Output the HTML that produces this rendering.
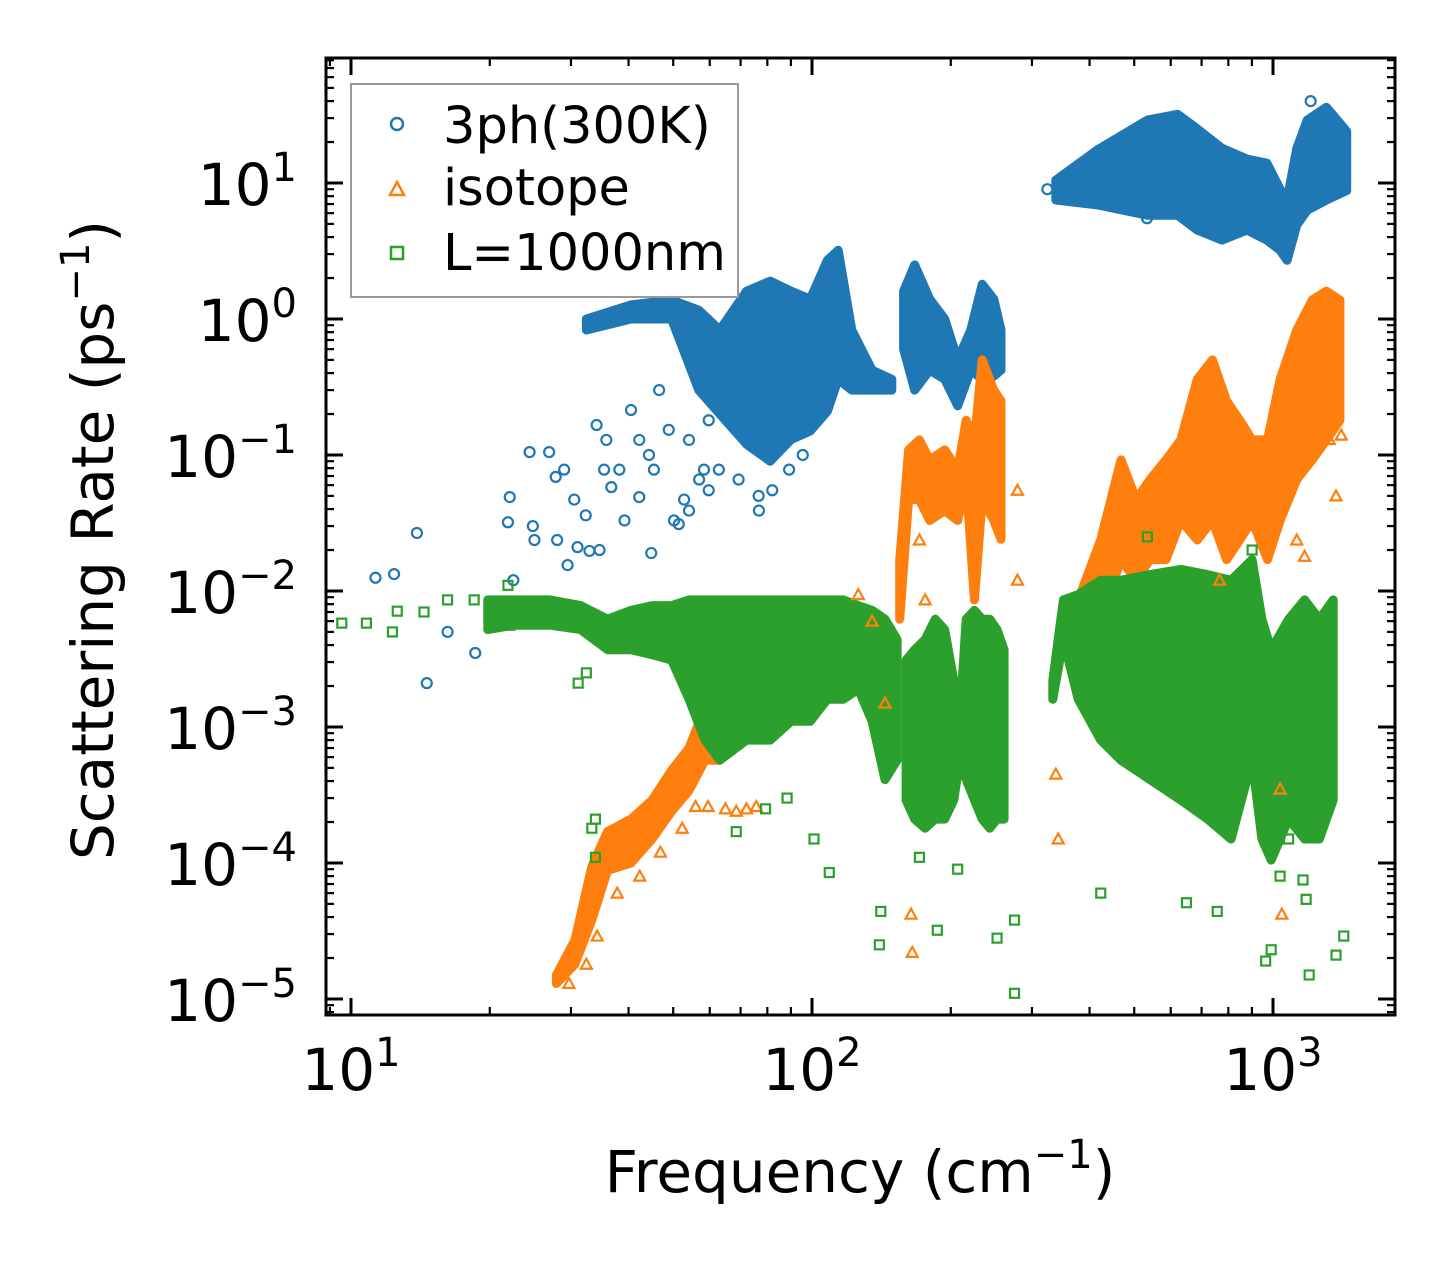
<!DOCTYPE html>
<html><head><meta charset="utf-8"><style>
html,body{margin:0;padding:0;background:#fff;width:1455px;height:1265px;overflow:hidden}
svg text{font-family:"DejaVu Sans","Liberation Sans",sans-serif;fill:#000}
</style></head><body>
<svg id="chart" width="1455" height="1265" viewBox="0 0 1455 1265" xmlns="http://www.w3.org/2000/svg">
<g id="bands"></g>
<g id="points"></g>
<g id="axes"></g>
<g id="legend">
<rect x="351" y="84" width="387" height="213" fill="#fff" fill-opacity="0.8" stroke="#999" stroke-width="2"/>
<circle cx="397" cy="124" r="6" fill="none" stroke="#1f77b4" stroke-width="2.5"/>
<text x="443" y="143" font-size="51">3ph(300K)</text>
<path d="M397,182 L404,195 L390,195 Z" fill="none" stroke="#ff7f0e" stroke-width="2.5"/>
<text x="443" y="205" font-size="51">isotope</text>
<rect x="391" y="247" width="12" height="12" fill="none" stroke="#2ca02c" stroke-width="2.5"/>
<text x="443" y="270" font-size="51">L=1000nm</text>
</g>
<text x="860" y="1192" font-size="58" text-anchor="middle">Frequency (cm<tspan dy="-24" font-size="40">−1</tspan><tspan dy="24">)</tspan></text>
<text transform="translate(113,540) rotate(-90)" font-size="58" text-anchor="middle">Scattering Rate (ps<tspan dy="-24" font-size="40">−1</tspan><tspan dy="24">)</tspan></text>
</svg>
<script>
// ---- Data (frequency in cm^-1, rate in ps^-1) ----
const xTickLabels = ["1", "2", "3"];
const yTickExps = ["1", "0", "−1", "−2", "−3", "−4", "−5"];
const xTickValues = [10, 100, 1000];
const yTickValues = [10, 1, 0.1, 0.01, 0.001, 0.0001, 0.00001];

// dense-band envelopes
const blueBand1F  = [338, 416, 534, 621, 685, 775, 878, 970, 1036, 1073, 1126, 1186, 1306, 1445];
const blueBand1Hi = [10.5, 17.5, 29, 32, 25, 18, 15, 14, 9, 7.5, 18, 29, 36, 24];
const blueBand1Lo = [7.5, 6.9, 5.8, 5.8, 4.5, 3.8, 4.5, 3.8, 3.2, 2.7, 4.9, 6.3, 7.5, 8.8];
const blueBand2F  = [32.4, 40.5, 49.6, 56.8, 63.1, 72.1, 81.1, 90.1, 99.1, 108, 114, 122, 135, 149];
const blueBand2Hi = [1.0, 1.27, 1.38, 1.16, 0.83, 1.6, 1.9, 1.6, 1.4, 2.7, 3.2, 0.83, 0.42, 0.36];
const blueBand2Lo = [0.83, 1.0, 1.0, 0.3, 0.2, 0.12, 0.09, 0.13, 0.15, 0.21, 0.36, 0.3, 0.3, 0.3];
const blueBand3F  = [158, 167, 180, 194, 207, 221, 234, 248, 257];
const blueBand3Hi = [1.6, 2.5, 1.4, 1.0, 0.5, 0.83, 1.8, 1.4, 0.83];
const blueBand3Lo = [0.6, 0.3, 0.42, 0.36, 0.23, 0.42, 0.36, 0.38, 0.42];

const orangeBand1F  = [27.9, 30.6, 33.3, 36, 40.5, 45, 49.6, 54.1, 58.6, 63.1];
const orangeBand1Hi = [1.5e-5, 2.7e-5, 9.4e-5, 1.7e-4, 2.1e-4, 2.9e-4, 4.8e-4, 7e-4, 1.4e-3, 1.6e-3];
const orangeBand1Lo = [1.3e-5, 1.8e-5, 3.8e-5, 8.8e-5, 1.0e-4, 1.5e-4, 2.4e-4, 3.4e-4, 5.7e-4, 5.7e-4];
const orangeBand2F  = [155, 162, 171, 180, 194, 207, 216, 225, 234, 248, 257];
const orangeBand2Hi = [0.0169, 0.109, 0.129, 0.092, 0.109, 0.078, 0.18, 0.129, 0.5, 0.30, 0.25];
const orangeBand2Lo = [0.0062, 0.047, 0.047, 0.033, 0.039, 0.033, 0.066, 0.0086, 0.047, 0.033, 0.024];
const orangeBand3F  = [342, 378, 423, 468, 505, 541, 586, 631, 685, 739, 793, 847, 901, 973, 1036, 1126, 1216, 1306, 1397];
const orangeBand3Hi = [0.0044, 0.0086, 0.0237, 0.092, 0.047, 0.066, 0.092, 0.129, 0.36, 0.5, 0.25, 0.18, 0.129, 0.129, 0.36, 0.83, 1.38, 1.6, 1.38];
const orangeBand3Lo = [0.0031, 0.0044, 0.0062, 0.017, 0.012, 0.017, 0.017, 0.033, 0.0237, 0.033, 0.017, 0.0237, 0.033, 0.017, 0.033, 0.066, 0.092, 0.129, 0.18];

const greenBand1F  = [19.8, 22.5, 27, 31.5, 36, 40.5, 45, 49.6, 54.1, 58.6, 63.1, 72.1, 81.1, 90.1, 99.1, 108, 117, 126, 135, 144, 153];
const greenBand1Hi = [0.0086, 0.0086, 0.0086, 0.0078, 0.0062, 0.0072, 0.0078, 0.0078, 0.0086, 0.0086, 0.0086, 0.0086, 0.0086, 0.0086, 0.0086, 0.0086, 0.0086, 0.0078, 0.0072, 0.0062, 0.0044];
const greenBand1Lo = [0.0052, 0.0056, 0.0056, 0.0052, 0.0037, 0.0037, 0.0034, 0.0031, 0.0016, 0.0008, 0.00057, 0.0008, 0.0008, 0.0011, 0.0011, 0.0016, 0.0016, 0.0019, 0.0011, 0.00041, 0.00057];
const greenBand2F  = [160, 167, 176, 185, 194, 203, 209, 216, 225, 234, 243, 252, 261];
const greenBand2Hi = [0.0031, 0.0037, 0.0044, 0.0062, 0.0052, 0.0022, 0.0011, 0.0062, 0.0072, 0.0062, 0.0062, 0.0052, 0.0037];
const greenBand2Lo = [0.00029, 0.00021, 0.00018, 0.00021, 0.00021, 0.00029, 0.00057, 0.00041, 0.00029, 0.00021, 0.00018, 0.00021, 0.00021];
const greenBand3F  = [333, 351, 378, 423, 468, 541, 631, 721, 811, 901, 946, 991, 1081, 1171, 1261, 1351];
const greenBand3Hi = [0.0022, 0.0086, 0.0094, 0.012, 0.012, 0.0132, 0.0144, 0.0132, 0.012, 0.017, 0.0062, 0.0037, 0.0062, 0.0086, 0.0062, 0.0086];
const greenBand3Lo = [0.0016, 0.0044, 0.0016, 0.0008, 0.00057, 0.00041, 0.00029, 0.00021, 0.00015, 0.00057, 0.00015, 0.000105, 0.00021, 0.00015, 0.00015, 0.00029];

// sparse points
const blueF = [11.3, 12.4, 13.9, 16.2, 18.6, 14.6, 21.9, 22.1, 22.5, 24.4, 24.8, 25, 26.9, 27.8, 28, 29, 29.5, 30.5, 31, 32.3, 32.9, 34.1, 34.6, 35.4, 35.8, 36.7, 38.2, 40.5, 42.2, 42.2, 44.3, 44.8, 45.4, 46.6, 48.9, 50.2, 51.4, 52.8, 54.1, 56.9, 58.3, 59.7, 62.8, 66, 69.3, 76.7, 39.2, 54.1, 59.7, 76.6, 82, 89.2, 95.5, 1207, 533, 324];
const blueV = [0.0125, 0.0133, 0.0267, 0.005, 0.0035, 0.0021, 0.032, 0.049, 0.012, 0.105, 0.030, 0.0237, 0.105, 0.069, 0.0237, 0.078, 0.0155, 0.047, 0.021, 0.036, 0.0197, 0.166, 0.020, 0.078, 0.129, 0.058, 0.078, 0.214, 0.129, 0.049, 0.1, 0.019, 0.078, 0.30, 0.153, 0.033, 0.031, 0.047, 0.039, 0.066, 0.078, 0.055, 0.078, 0.18, 0.066, 0.039, 0.033, 0.129, 0.18, 0.05, 0.055, 0.078, 0.1, 40, 5.5, 9];
const orangeF = [29.7, 32.4, 34.2, 37.8, 42.3, 46.9, 52.3, 55.9, 59.5, 64.9, 68.5, 72.1, 75.7, 342, 338, 164, 165, 1045, 1036, 1370, 1406, 1324, 279, 279, 225, 171, 176, 126, 135, 144, 1171, 1126, 928, 766, 811];
const orangeV = [1.3e-5, 1.8e-5, 2.9e-5, 6e-5, 8e-5, 1.2e-4, 1.8e-4, 2.6e-4, 2.6e-4, 2.5e-4, 2.4e-4, 2.5e-4, 2.6e-4, 1.5e-4, 4.5e-4, 4.2e-5, 2.2e-5, 4.2e-5, 3.5e-4, 0.05, 0.14, 0.13, 0.055, 0.012, 0.129, 0.0237, 0.0086, 0.0094, 0.006, 0.0015, 0.018, 0.0237, 0.07, 0.012, 0.03];
const greenF = [9.55, 10.8, 12.3, 12.6, 14.4, 16.2, 18.5, 21.9, 22.1, 33.9, 33.9, 33.3, 68.5, 109, 101, 140, 141, 187, 252, 275, 275, 423, 649, 757, 991, 964, 1198, 1370, 1424, 1180, 1162, 534, 901, 31.1, 32.4, 79.3, 88.3, 171, 207, 1081, 1036];
const greenV = [0.0058, 0.0058, 0.005, 0.0071, 0.007, 0.0086, 0.0086, 0.011, 0.0056, 2.1e-4, 1.1e-4, 1.8e-4, 1.7e-4, 8.5e-5, 1.5e-4, 2.5e-5, 4.4e-5, 3.2e-5, 2.8e-5, 1.1e-5, 3.8e-5, 6e-5, 5.1e-5, 4.4e-5, 2.3e-5, 1.9e-5, 1.5e-5, 2.1e-5, 2.9e-5, 5.4e-5, 7.5e-5, 0.025, 0.02, 0.0021, 0.0025, 0.00025, 0.0003, 0.00011, 9e-5, 1.5e-4, 8e-5];

// ---- Axes ----
const X0 = 326, X1 = 1395, Y0 = 58, Y1 = 1015;
const lfMin = 1 - 25 / 461, lfMax = 3 + 122 / 461;
const lvMin = -5.118, lvMax = 1.919;
function xs(f){ return X0 + (Math.log10(f) - lfMin) / (lfMax - lfMin) * (X1 - X0); }
function ys(v){ return Y1 - (Math.log10(v) - lvMin) / (lvMax - lvMin) * (Y1 - Y0); }

const NS = "http://www.w3.org/2000/svg";
function mk(tag, attrs, parent){ const e = document.createElementNS(NS, tag); for (const k in attrs) e.setAttribute(k, attrs[k]); parent.appendChild(e); return e; }

const bandsG = document.getElementById("bands");
function band(F, Hi, Lo, color, name){
  let d = "";
  for (let i = 0; i < F.length; i++) d += (i ? "L" : "M") + xs(F[i]).toFixed(1) + "," + ys(Hi[i]).toFixed(1);
  for (let i = F.length - 1; i >= 0; i--) d += "L" + xs(F[i]).toFixed(1) + "," + ys(Lo[i]).toFixed(1);
  const p = mk("path", {d: d + "Z", fill: color, stroke: color, "stroke-width": 9, "stroke-linejoin": "round"}, bandsG);
  
  
}
const ptsG = document.getElementById("points");
function pts(F, V, kind, color, name){
  for (let i = 0; i < F.length; i++){
    const x = xs(F[i]), y = ys(V[i]);
    let e;
    if (kind === "c") e = mk("circle", {cx: x, cy: y, r: 5, fill: "none", stroke: color, "stroke-width": 2.2}, ptsG);
    else if (kind === "t") e = mk("path", {d: `M${x},${y-5.5}L${x+5.5},${y+4.5}L${x-5.5},${y+4.5}Z`, fill: "none", stroke: color, "stroke-width": 2.2}, ptsG);
    else e = mk("rect", {x: x-4.5, y: y-4.5, width: 9, height: 9, fill: "none", stroke: color, "stroke-width": 2.2}, ptsG);
    
    
  }
}
const B = "#1f77b4", O = "#ff7f0e", G = "#2ca02c";
band(blueBand1F, blueBand1Hi, blueBand1Lo, B, "3ph-band-high");
band(blueBand2F, blueBand2Hi, blueBand2Lo, B, "3ph-band-mid");
band(blueBand3F, blueBand3Hi, blueBand3Lo, B, "3ph-band-optical");
pts(blueF, blueV, "c", B, "3ph-point");
band(orangeBand1F, orangeBand1Hi, orangeBand1Lo, O, "isotope-band-low");
band(orangeBand2F, orangeBand2Hi, orangeBand2Lo, O, "isotope-band-mid");
band(orangeBand3F, orangeBand3Hi, orangeBand3Lo, O, "isotope-band-high");
pts(orangeF, orangeV, "t", O, "isotope-point");
band(greenBand1F, greenBand1Hi, greenBand1Lo, G, "boundary-band-low");
band(greenBand2F, greenBand2Hi, greenBand2Lo, G, "boundary-band-mid");
band(greenBand3F, greenBand3Hi, greenBand3Lo, G, "boundary-band-high");
pts(greenF, greenV, "s", G, "boundary-point");

// axes frame & ticks
const ax = document.getElementById("axes");
const fr = mk("rect", {x: X0, y: Y0, width: X1 - X0, height: Y1 - Y0, fill: "none", stroke: "#000", "stroke-width": 3}, ax);


function tickLine(x1, y1, x2, y2, w){ mk("line", {x1, y1, x2, y2, stroke: "#000", "stroke-width": w}, ax); }
for (let e = 0; e <= 3; e++){
  for (let m = 1; m <= 9; m++){
    const lf = Math.log10(m * Math.pow(10, e));
    if (lf < lfMin || lf > lfMax) continue;
    const x = xs(m * Math.pow(10, e)), L = m === 1 ? 17 : 8, w = m === 1 ? 3 : 2.2;
    tickLine(x, Y1, x, Y1 - L, w); tickLine(x, Y0, x, Y0 + L, w);
  }
}
for (let e = -6; e <= 1; e++){
  for (let m = 1; m <= 9; m++){
    const lv = Math.log10(m * Math.pow(10, e));
    if (lv < lvMin || lv > lvMax) continue;
    const y = ys(m * Math.pow(10, e)), L = m === 1 ? 17 : 8, w = m === 1 ? 3 : 2.2;
    tickLine(X0, y, X0 + L, y, w); tickLine(X1, y, X1 - L, y, w);
  }
}
for (let i = 0; i < xTickValues.length; i++){
  const t = mk("text", {x: xs(xTickValues[i]), y: 1090, "font-size": 58, "text-anchor": "middle"}, ax);
  
  
  t.innerHTML = `10<tspan dy="-24" font-size="40">${xTickLabels[i]}</tspan>`;
}
for (let i = 0; i < yTickValues.length; i++){
  const t = mk("text", {x: 297, y: ys(yTickValues[i]) + 22, "font-size": 58, "text-anchor": "end"}, ax);
  
  
  t.innerHTML = `10<tspan dy="-24" font-size="40">${yTickExps[i]}</tspan>`;
}
</script>
</body></html>
